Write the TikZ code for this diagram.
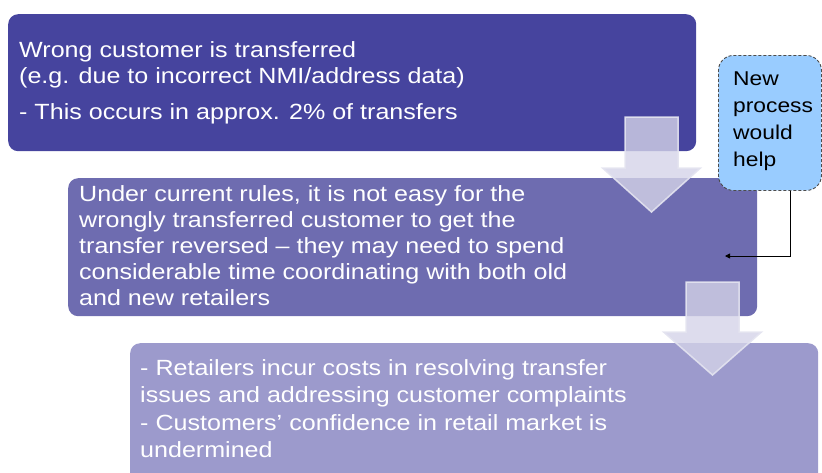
\documentclass[tikz,border=0pt]{standalone}
\usepackage{fontspec}
\setmainfont{Liberation Sans}[FakeStretch=1.14]
\usetikzlibrary{arrows.meta}

\definecolor{stepA}{RGB}{70,68,158}
\definecolor{stepB}{RGB}{110,108,176}
\definecolor{stepC}{RGB}{156,154,204}
\definecolor{noteblue}{RGB}{153,204,255}
\definecolor{arrowfill}{RGB}{212,211,232}
\definecolor{arrowline}{RGB}{228,228,240}

\tikzset{
  stepbox/.style={rounded corners=10pt, anchor=north west, inner sep=0pt},
  steptext/.style={anchor=north west, inner sep=0pt, align=left, text=white,
    font=\fontsize{22pt}{26pt}\selectfont},
  downarrow/.style={fill=arrowfill, fill opacity=0.8, draw=arrowline,
    draw opacity=0.9, line width=1.5pt, line join=miter},
  notebox/.style={rounded corners=15pt, fill=noteblue, draw=black!70,
    dash pattern=on 3pt off 2pt, line width=0.9pt,
    anchor=north west, inner sep=0pt},
  notetext/.style={anchor=north west, inner sep=0pt, align=left,
    font=\fontsize{20pt}{27pt}\selectfont},
  link/.style={draw=black, line width=0.8pt, -{Triangle[length=5pt,width=5pt]}}
}

\begin{document}
\begin{tikzpicture}[x=1pt,y=-1pt]
  \clip (0,0) rectangle (822,472);

  % the three steps
  \node[stepbox, fill=stepA, minimum width=688pt, minimum height=137pt] (b1) at (8,14) {};
  \node[stepbox, fill=stepB, minimum width=689pt, minimum height=138pt] (b2) at (68,178) {};
  \node[stepbox, fill=stepC, minimum width=688pt, minimum height=150pt] (b3) at (130,343) {};

  \node[steptext] (t1) at (19,41) {Wrong customer is transferred\\
    (e.g. due to incorrect NMI/address data)\\[10pt]
    - This occurs in approx. 2\% of transfers};
  \node[steptext] (t2) at (79,185) {Under current rules, it is not easy for the\\
    wrongly transferred customer to get the\\
    transfer reversed -- they may need to spend\\
    considerable time coordinating with both old\\
    and new retailers};
  \node[steptext, font=\fontsize{22pt}{27.5pt}\selectfont] (t3) at (140,359)
    {- Retailers incur costs in resolving transfer\\
    issues and addressing customer complaints\\
    - Customers' confidence in retail market is\\
    undermined};

  % arrows between the steps
  \foreach \cx/\top/\base/\tip in {651.5/117/168/212, 712.5/282/332/375}
    \draw[downarrow] (\cx-26.5,\top) -- (\cx+26.5,\top) -- (\cx+26.5,\base)
      -- (\cx+49,\base) -- (\cx,\tip) -- (\cx-49,\base) -- (\cx-26.5,\base) -- cycle;

  % side note
  \node[notebox, minimum width=103pt, minimum height=135pt] (note) at (718,55) {};
  \node[notetext] (nt) at (733,72) {New\\process\\would\\help};
  \coordinate (target) at (725,256);
  \draw[link] ([xshift=20.5pt]note.south) |- (target);
\end{tikzpicture}
\end{document}
